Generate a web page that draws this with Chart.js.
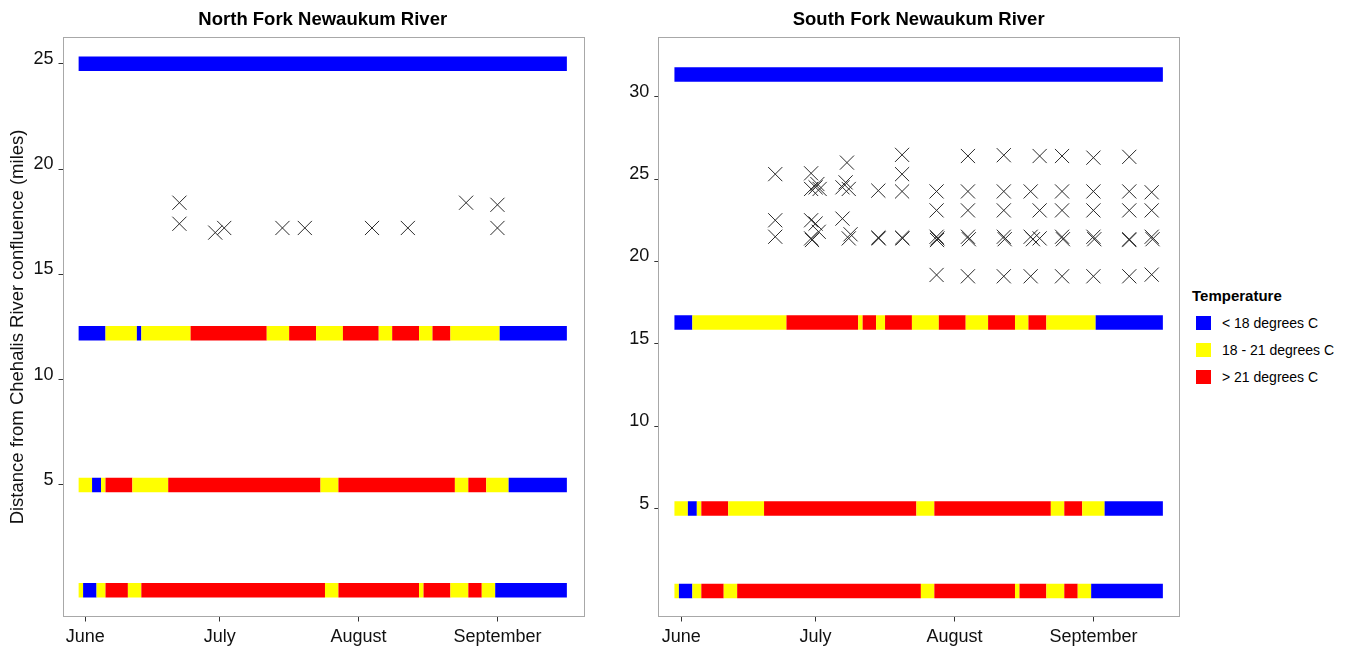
<!DOCTYPE html>
<html>
<head>
<meta charset="utf-8">
<script src="https://cdn.jsdelivr.net/npm/chart.js@4"></script>
<style>
  html, body { margin:0; padding:0; background:#fff; }
  body { width:1354px; height:647px; position:relative; overflow:hidden; font-family:'Liberation Sans', Arial, sans-serif; }
  .panel { position:absolute; top:0; height:647px; }
  #legend { position:absolute; left:1192px; top:286px; color:#000; }
  #legend .ttl { font-weight:bold; font-size:15px; height:20px; line-height:20px; }
  #legend .item { position:relative; height:27px; }
  #legend .key { position:absolute; left:4px; top:2px; width:15px; height:14px; }
  #legend .lbl { position:absolute; left:30px; top:0px; font-size:14px; line-height:18px; white-space:nowrap; }
</style>
</head>
<body>
<div class="panel" style="left:0;width:600px;"><canvas id="nf" width="600" height="647"></canvas></div>
<div class="panel" style="left:600px;width:590px;"><canvas id="sf" width="590" height="647"></canvas></div>
<div id="legend"></div>
<script>
// ---- data (day 0 = June 1) ----
const monthTicks = [0, 30, 61, 92];
const monthLabels = ['June', 'July', 'August', 'September'];
const tempCategories = ['< 18 degrees C', '18 - 21 degrees C', '> 21 degrees C'];
const tempColors = ['#0000FF', '#FFFF00', '#FF0000'];

// North Fork: site distances (miles) and runs of daily temperature category [firstDay, lastDay, category]
const nfSiteMiles = [0.0, 5.0, 12.2, 25.0];
const nfRunsSite1 = [[-1,-1,1],[0,2,0],[3,4,1],[5,9,2],[10,12,1],[13,53,2],[54,56,1],[57,74,2],[75,75,1],[76,81,2],[82,85,1],[86,88,2],[89,91,1],[92,107,0]];
const nfRunsSite2 = [[-1,1,1],[2,3,0],[4,4,1],[5,10,2],[11,18,1],[19,52,2],[53,56,1],[57,82,2],[83,85,1],[86,89,2],[90,94,1],[95,107,0]];
const nfRunsSite3 = [[-1,4,0],[5,11,1],[12,12,0],[13,23,1],[24,40,2],[41,45,1],[46,51,2],[52,57,1],[58,65,2],[66,68,1],[69,74,2],[75,77,1],[78,81,2],[82,92,1],[93,107,0]];
const nfRunsSite4 = [[-1,107,0]];
const nfSampleDays  = [21, 21, 29, 31, 44, 49, 64, 72, 85, 92, 92];
const nfSampleMiles = [18.4, 17.4, 16.98, 17.2, 17.2, 17.2, 17.2, 17.2, 18.4, 18.3, 17.2];

// South Fork
const sfSiteMiles = [0.0, 5.0, 16.3, 31.35];
const sfRunsSite1 = [[-1,-1,1],[0,2,0],[3,4,1],[5,9,2],[10,12,1],[13,53,2],[54,56,1],[57,74,2],[75,75,1],[76,81,2],[82,85,1],[86,88,2],[89,91,1],[92,107,0]];
const sfRunsSite2 = [[-1,1,1],[2,3,0],[4,4,1],[5,10,2],[11,18,1],[19,52,2],[53,56,1],[57,82,2],[83,85,1],[86,89,2],[90,94,1],[95,107,0]];
const sfRunsSite3 = [[-1,2,0],[3,23,1],[24,39,2],[40,40,1],[41,43,2],[44,45,1],[46,51,2],[52,57,1],[58,63,2],[64,68,1],[69,74,2],[75,77,1],[78,81,2],[82,92,1],[93,107,0]];
const sfRunsSite4 = [[-1,107,0]];
const sfSampleDays  = [21,21,21, 29,29,30,30.9,30.4,29,30,29,29.2,30.7, 37,36,36.7,37.4,36,37.8,37.4, 44,44,44.1, 49.3,49.3,49.3,49.3,49.4,
  57,57,57,57.2,57.1,57, 64,64,64,64,64.2,64, 72,72,72,72,72.2,72, 78,78,78.5,80,80,80,78, 85,85,85,85,85.2,85, 92,92,92,92,92.2,92,
  100,100,100,100,100,100, 105,105,105,105.2,105];
const sfSampleMiles = [25.3,22.5,21.5, 25.35,24.4,24.5,24.4,24.7,22.5,22.3,21.4,21.3,21.8, 26.0,24.5,24.8,24.4,22.6,21.65,21.4, 24.3,21.45,21.4, 26.47,25.3,24.25,21.45,21.4,
  24.25,23.1,21.5,21.4,21.3,19.18, 26.4,24.25,23.1,21.5,21.35,19.1, 26.45,24.25,23.1,21.5,21.35,19.1, 24.25,21.5,21.35,21.4,26.4,23.1,19.1, 26.4,24.25,23.1,21.5,21.35,19.1, 26.3,24.25,23.1,21.5,21.35,19.1,
  26.35,24.25,23.1,21.35,21.3,19.1, 24.2,23.1,21.5,21.35,19.2];

const nfYTicks = [5, 10, 15, 20, 25];
const sfYTicks = [5, 10, 15, 20, 25, 30];

// ---- rendering ----
const FONT = "'Liberation Sans', Arial, sans-serif";
Chart.defaults.font.family = FONT;
Chart.defaults.color = '#111';

function siteDataset(miles, runs) {
  const pts = runs.map(r => ({x: r[0] - 0.5, y: miles}));
  pts.push({x: runs[runs.length - 1][1] + 0.5, y: miles});
  return {
    type: 'line', data: pts, borderWidth: 14.5, borderCapStyle: 'butt', pointRadius: 0,
    borderColor: tempColors[runs[0][2]], tension: 0, fill: false, clip: 20,
    segment: { borderColor: ctx => tempColors[runs[ctx.p0DataIndex][2]] }
  };
}
function sampleDataset(days, miles) {
  return {
    type: 'scatter', data: days.map((d, i) => ({x: d, y: miles[i]})),
    pointStyle: 'crossRot', pointRadius: 10, borderColor: '#2a2a2a', backgroundColor: '#2a2a2a',
    pointBorderWidth: 1, borderWidth: 1, showLine: false
  };
}
const boxPlugin = {
  id: 'box',
  afterDraw(chart) {
    const a = chart.chartArea, c = chart.ctx;
    c.save(); c.strokeStyle = '#a8a8a8'; c.lineWidth = 1;
    c.strokeRect(Math.round(a.left) + 0.5, Math.round(a.top) + 0.5, Math.round(a.right - a.left), Math.round(a.bottom - a.top));
    c.restore();
  }
};

function makeChart(id, title, siteMiles, runsList, sDays, sMiles, yTicks, yMin, yMax, yAxisWidth, padRight, yTitle) {
  const datasets = runsList.map((runs, i) => siteDataset(siteMiles[i], runs));
  datasets.push(sampleDataset(sDays, sMiles));
  return new Chart(document.getElementById(id), {
    data: { datasets },
    options: {
      responsive: false, animation: false, devicePixelRatio: 1,
      layout: { padding: { left: 0, right: padRight, top: 0, bottom: 0 } },
      plugins: {
        legend: { display: false }, tooltip: { enabled: false },
        title: { display: true, text: title, fullSize: false, color: '#000',
                 font: { family: FONT, size: 18.5, weight: 'bold', lineHeight: 1.2 },
                 padding: { top: 9, bottom: 6.2 } }
      },
      scales: {
        x: {
          type: 'linear', min: -5.1, max: 111.1,
          afterBuildTicks: s => { s.ticks = monthTicks.map(v => ({ value: v })); },
          afterFit: s => { s.height = 30.5; },
          ticks: { callback: v => monthLabels[monthTicks.indexOf(v)], font: { size: 18 }, color: '#111', padding: 5, maxRotation: 0, autoSkip: false },
          grid: { drawOnChartArea: false, drawTicks: true, tickLength: 5, color: '#333', tickColor: '#333' },
          border: { display: false }
        },
        y: {
          type: 'linear', min: yMin, max: yMax,
          afterBuildTicks: s => { s.ticks = yTicks.map(v => ({ value: v })); },
          afterFit: s => { s.width = yAxisWidth; },
          ticks: { font: { size: 18 }, color: '#111', padding: 5, labelOffset: -5, autoSkip: false },
          grid: { drawOnChartArea: false, drawTicks: true, tickLength: 4, color: '#333', tickColor: '#333' },
          border: { display: false },
          title: { display: !!yTitle, text: yTitle || '', font: { size: 18.5 }, color: '#111', padding: { top: 7, bottom: 0 } }
        }
      }
    },
    plugins: [boxPlugin]
  });
}

makeChart('nf', 'North Fork Newaukum River', nfSiteMiles, [nfRunsSite1, nfRunsSite2, nfRunsSite3, nfRunsSite4],
  nfSampleDays, nfSampleMiles, nfYTicks, -1.25, 26.25, 62.5, 17, 'Distance from Chehalis River confluence (miles)');
makeChart('sf', 'South Fork Newaukum River', sfSiteMiles, [sfRunsSite1, sfRunsSite2, sfRunsSite3, sfRunsSite4],
  sfSampleDays, sfSampleMiles, sfYTicks, -1.55, 33.6, 58.3, 10, '');

// legend
const lg = document.getElementById('legend');
const t = document.createElement('div'); t.className = 'ttl'; t.textContent = 'Temperature'; lg.appendChild(t);
const sp = document.createElement('div'); sp.style.height = '8px'; lg.appendChild(sp);
tempCategories.forEach((c, i) => {
  const it = document.createElement('div'); it.className = 'item';
  const k = document.createElement('div'); k.className = 'key'; k.style.background = tempColors[i];
  const l = document.createElement('div'); l.className = 'lbl'; l.textContent = c;
  it.appendChild(k); it.appendChild(l); lg.appendChild(it);
});
</script>
</body>
</html>
